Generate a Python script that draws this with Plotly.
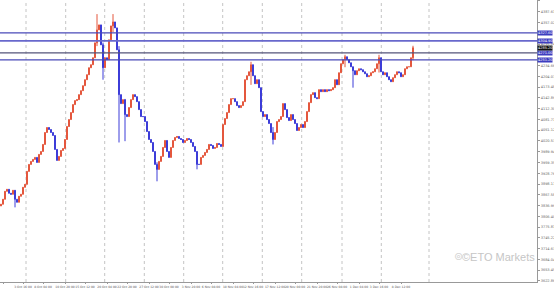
import plotly.graph_objects as go

# Close prices (XAUUSD-like), one per bar
closes = [
    3840.9, 3855.0, 3877.6, 3883.3, 3872.0, 3869.2, 3880.5, 3855.0, 3846.5, 3863.5,
    3869.2, 3889.0, 3897.4, 3934.2, 3954.0, 3962.5, 3968.2, 3973.9, 3959.7, 3982.4,
    3990.8, 4010.7, 4044.6, 4058.8, 4053.1, 4044.6, 4036.1, 3996.5, 3965.4, 3976.7,
    3993.7, 3999.3, 4024.8, 4061.6, 4081.4, 4101.2, 4123.9, 4135.2, 4138.0, 4152.2,
    4163.5, 4177.6, 4194.6, 4208.8, 4228.6, 4237.1, 4256.9, 4299.3, 4336.1, 4350.3,
    4293.7, 4228.6, 4256.9, 4251.2, 4307.8, 4347.4, 4358.7, 4341.8, 4279.5, 4152.2,
    4126.7, 4138.0, 4095.5, 4089.9, 4115.4, 4138.0, 4152.2, 4146.5, 4132.3, 4109.7,
    4089.9, 4089.9, 4075.7, 4047.4, 4024.8, 4016.3, 3990.8, 3954.0, 3939.9, 3962.5,
    3976.7, 4002.2, 4022.0, 3990.8, 3973.9, 4002.2, 4022.0, 4030.5, 4033.3, 4027.6,
    4024.8, 4016.3, 4022.0, 4027.6, 4024.8, 4016.3, 4005.0, 3990.8, 3954.0, 3954.0,
    3973.9, 3979.5, 3988.0, 3996.5, 4010.7, 4007.8, 3999.3, 4002.2, 4013.5, 4010.7,
    4005.0, 4067.2, 4084.2, 4101.2, 4123.9, 4140.8, 4140.8, 4132.3, 4121.0, 4115.4,
    4121.0, 4132.3, 4194.6, 4205.9, 4217.2, 4237.1, 4205.9, 4183.3, 4194.6, 4172.0,
    4104.0, 4089.9, 4095.5, 4081.4, 4070.1, 4044.6, 4024.8, 4044.6, 4075.7, 4081.4,
    4089.9, 4126.7, 4109.7, 4087.1, 4078.6, 4095.5, 4081.4, 4070.1, 4050.3, 4058.8,
    4067.2, 4058.8, 4075.7, 4104.0, 4129.5, 4152.2, 4157.8, 4143.7, 4140.8, 4166.3,
    4160.6, 4166.3, 4160.6, 4166.3, 4163.5, 4166.3, 4172.0, 4194.6, 4180.4, 4214.4,
    4239.9, 4251.2, 4259.7, 4251.2, 4242.7, 4231.4, 4220.1, 4208.8, 4220.1, 4225.7,
    4222.9, 4217.2, 4211.6, 4203.1, 4205.9, 4214.4, 4217.2, 4225.7, 4239.9, 4256.9,
    4217.2, 4208.8, 4214.4, 4203.1, 4194.6, 4188.9, 4200.3, 4208.8, 4217.2, 4214.4,
    4203.1, 4208.8, 4225.7, 4231.4, 4231.4, 4256.9, 4285.2,
]
first_open = 3836.0

# Notable wick extremes: bar index -> (high, low)
wick_bars = [7, 48, 51, 56, 59, 62, 78, 98, 125, 136, 172, 176, 189, 206]
wick_highs = [3872.0, 4381.0, 4300.0, 4381.0, 4290.0, 4140.0, 3960.0, 3990.0, 4245.5, 4060.0, 4265.4, 4230.0, 4265.4, 4291.0]
wick_lows = [3832.0, 4290.0, 4194.6, 4330.0, 4016.3, 4020.0, 3906.0, 3940.0, 4180.0, 4010.7, 4230.0, 4172.0, 4215.0, 4250.0]

# Horizontal levels drawn on the chart
level_prices = [4327.6, 4304.9, 4271.0, 4251.2]
level_colors = ["#4a4ab8", "#6868cc", "#55557a", "#4a4ab8"]
level_widths = [1.3, 1.8, 1.3, 1.3]

# Weekly separators (bar positions)
week_seps = [12.5, 32.35, 51.85, 71.65, 91.35, 110.85, 130.65, 150.35, 170.5, 190.15, 214.0]

# Axis tick labels
x_tickpos = [1, 11, 21, 32, 42, 53, 63, 74, 84, 95, 105, 116, 126, 137, 147, 158, 168, 179, 189, 200]
x_ticktext = ["1 Oct 00:00", "3 Oct 16:00", "8 Oct 04:00", "10 Oct 20:00", "15 Oct 12:00",
              "20 Oct 04:00", "22 Oct 20:00", "27 Oct 12:00", "30 Oct 00:00", "3 Nov 20:00",
              "6 Nov 08:00", "10 Nov 04:00", "12 Nov 16:00", "17 Nov 12:00", "20 Nov 00:00",
              "21 Nov 20:00", "26 Nov 08:00", "1 Dec 04:00", "3 Dec 16:00", "8 Dec 12:00"]
y_tickvals = [4418.20, 4387.61, 4357.02, 4326.43, 4295.84, 4265.25, 4234.66, 4204.07, 4173.48,
              4142.89, 4112.30, 4081.71, 4051.12, 4020.53, 3989.94, 3959.35, 3928.76, 3898.17,
              3867.58, 3836.99, 3806.40, 3775.81, 3745.22, 3714.63, 3684.04, 3653.45, 3622.86]
# tick labels hidden behind the level price tags
y_hidden = [4326.43, 4265.25]

n = len(closes)
opens = [first_open] + closes[:-1]
highs = [max(o, c) for o, c in zip(opens, closes)]
lows = [min(o, c) for o, c in zip(opens, closes)]
for i, h, l in zip(wick_bars, wick_highs, wick_lows):
    highs[i] = max(highs[i], h)
    lows[i] = min(lows[i], l)

UP = "#e4573d"
DOWN = "#3c3cd8"

fig = go.Figure()
fig.add_trace(go.Candlestick(
    x=list(range(n)), open=opens, high=highs, low=lows, close=closes,
    increasing=dict(line=dict(color=UP, width=1), fillcolor=UP),
    decreasing=dict(line=dict(color=DOWN, width=1), fillcolor=DOWN),
    whiskerwidth=0, showlegend=False, hoverinfo="skip",
))

shapes = []
for s in week_seps:
    shapes.append(dict(type="line", xref="x", yref="paper", x0=s, x1=s, y0=0, y1=1,
                       line=dict(color="#c4c4c4", width=1, dash="dot"), layer="below"))
for p, c, w in zip(level_prices, level_colors, level_widths):
    shapes.append(dict(type="line", xref="paper", yref="y", x0=0, x1=1, y0=p, y1=p,
                       line=dict(color=c, width=w)))

annotations = []
for p in level_prices:
    annotations.append(dict(xref="paper", yref="y", x=1, y=p, xanchor="left", xshift=0,
                            text=f"{p:.2f}", showarrow=False,
                            font=dict(size=3.5, color="white", family="DejaVu Sans"),
                            bgcolor="#3d3dbf", borderpad=0))
annotations.append(dict(xref="paper", yref="y", x=1, y=closes[-1], xanchor="left", xshift=0,
                        text=f"{closes[-1]:.2f}", showarrow=False,
                        font=dict(size=3.5, color="white", family="DejaVu Sans"),
                        bgcolor="#111111", borderpad=0))
annotations.append(dict(xref="paper", yref="paper", x=0.842, y=0.062, xanchor="left",
                        text="\u229a", showarrow=False,
                        font=dict(size=11, color="#d4d4d4", family="DejaVu Sans")))
annotations.append(dict(xref="paper", yref="paper", x=1.0, y=0.062, xanchor="right",
                        text="\u00a9ETO Markets", showarrow=False,
                        font=dict(size=11, color="#c6c6c6", family="Liberation Sans")))

fig.update_layout(
    width=554, height=289,
    margin=dict(l=0, r=17, t=0, b=7),
    paper_bgcolor="white", plot_bgcolor="white",
    shapes=shapes, annotations=annotations,
    xaxis=dict(range=[-0.5, 268], showgrid=False, zeroline=False,
               tickmode="array", tickvals=x_tickpos, ticktext=x_ticktext,
               tickangle=0, automargin=False,
               tickfont=dict(size=3, color="#555", family="DejaVu Sans"),
               showline=True, linecolor="#999", linewidth=1,
               ticks="outside", ticklen=1, tickcolor="#999",
               rangeslider=dict(visible=False), fixedrange=True),
    yaxis=dict(range=[3620, 4421], side="right", showgrid=False, zeroline=False,
               tickmode="array", tickvals=y_tickvals, automargin=False,
               ticktext=["" if v in y_hidden else f"{v:.2f}" for v in y_tickvals],
               tickfont=dict(size=3.5, color="#666", family="DejaVu Sans"),
               showline=True, linecolor="#999", linewidth=1,
               ticks="outside", ticklen=2, tickcolor="#999", fixedrange=True),
)

fig.write_html("out.html")
